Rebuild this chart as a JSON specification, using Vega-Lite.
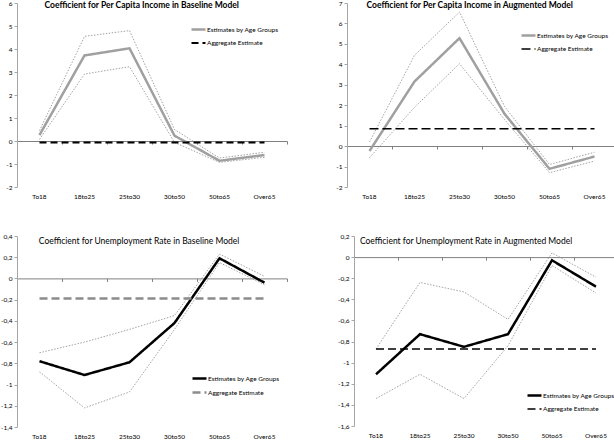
{
  "$schema": "https://vega.github.io/schema/vega-lite/v6.json",
  "padding": {"left": 0, "top": 0, "right": 0, "bottom": 0},
  "config": {
    "view": {"stroke": null},
    "font": "Lato",
    "locale": {"number": {"decimal": ",", "thousands": ".", "grouping": [3], "currency": ["", ""], "minus": "-"}},
    "axis": {"grid": false, "title": null, "labelFont": "Lato", "labelFontSize": 6.5, "labelColor": "#000000"},
    "axisY": {"minExtent": 13, "maxExtent": 13},
    "legend": {"labelFont": "Lato", "labelFontSize": 6.5, "labelColor": "#000000"},
    "title": {"font": "Lato", "fontSize": 8.5, "color": "#000000", "anchor": "middle", "frame": "bounds"}
  },
  "datasets": {
    "p1": [
      {"age": "To18", "series": "Estimates by Age Groups", "value": 0.26},
      {"age": "18to25", "series": "Estimates by Age Groups", "value": 3.72},
      {"age": "25to30", "series": "Estimates by Age Groups", "value": 4.03},
      {"age": "30to50", "series": "Estimates by Age Groups", "value": 0.23},
      {"age": "50to65", "series": "Estimates by Age Groups", "value": -0.86},
      {"age": "Over65", "series": "Estimates by Age Groups", "value": -0.61},
      {"age": "To18", "series": "Upper", "value": 0.45},
      {"age": "18to25", "series": "Upper", "value": 4.55},
      {"age": "25to30", "series": "Upper", "value": 4.8},
      {"age": "30to50", "series": "Upper", "value": 0.5},
      {"age": "50to65", "series": "Upper", "value": -0.74},
      {"age": "Over65", "series": "Upper", "value": -0.49},
      {"age": "To18", "series": "Lower", "value": 0.07},
      {"age": "18to25", "series": "Lower", "value": 2.91},
      {"age": "25to30", "series": "Lower", "value": 3.23},
      {"age": "30to50", "series": "Lower", "value": -0.06},
      {"age": "50to65", "series": "Lower", "value": -0.93},
      {"age": "Over65", "series": "Lower", "value": -0.71},
      {"age": "To18", "series": "Aggregate Estimate", "value": -0.06},
      {"age": "18to25", "series": "Aggregate Estimate", "value": -0.06},
      {"age": "25to30", "series": "Aggregate Estimate", "value": -0.06},
      {"age": "30to50", "series": "Aggregate Estimate", "value": -0.06},
      {"age": "50to65", "series": "Aggregate Estimate", "value": -0.06},
      {"age": "Over65", "series": "Aggregate Estimate", "value": -0.06}
    ],
    "p2": [
      {"age": "To18", "series": "Estimates by Age Groups", "value": -0.24},
      {"age": "18to25", "series": "Estimates by Age Groups", "value": 3.16},
      {"age": "25to30", "series": "Estimates by Age Groups", "value": 5.28},
      {"age": "30to50", "series": "Estimates by Age Groups", "value": 1.58},
      {"age": "50to65", "series": "Estimates by Age Groups", "value": -1.11},
      {"age": "Over65", "series": "Estimates by Age Groups", "value": -0.51},
      {"age": "To18", "series": "Upper", "value": 0.2},
      {"age": "18to25", "series": "Upper", "value": 4.44},
      {"age": "25to30", "series": "Upper", "value": 6.56},
      {"age": "30to50", "series": "Upper", "value": 1.94},
      {"age": "50to65", "series": "Upper", "value": -0.9},
      {"age": "Over65", "series": "Upper", "value": -0.3},
      {"age": "To18", "series": "Lower", "value": -0.57},
      {"age": "18to25", "series": "Lower", "value": 1.9},
      {"age": "25to30", "series": "Lower", "value": 4.03},
      {"age": "30to50", "series": "Lower", "value": 1.3},
      {"age": "50to65", "series": "Lower", "value": -1.3},
      {"age": "Over65", "series": "Lower", "value": -0.73},
      {"age": "To18", "series": "Aggregate Estimate", "value": 0.85},
      {"age": "18to25", "series": "Aggregate Estimate", "value": 0.85},
      {"age": "25to30", "series": "Aggregate Estimate", "value": 0.85},
      {"age": "30to50", "series": "Aggregate Estimate", "value": 0.85},
      {"age": "50to65", "series": "Aggregate Estimate", "value": 0.85},
      {"age": "Over65", "series": "Aggregate Estimate", "value": 0.85}
    ],
    "p3": [
      {"age": "To18", "series": "Estimates by Age Groups", "value": -0.78},
      {"age": "18to25", "series": "Estimates by Age Groups", "value": -0.91},
      {"age": "25to30", "series": "Estimates by Age Groups", "value": -0.79},
      {"age": "30to50", "series": "Estimates by Age Groups", "value": -0.42},
      {"age": "50to65", "series": "Estimates by Age Groups", "value": 0.19},
      {"age": "Over65", "series": "Estimates by Age Groups", "value": -0.04},
      {"age": "To18", "series": "Upper", "value": -0.7},
      {"age": "18to25", "series": "Upper", "value": -0.6},
      {"age": "25to30", "series": "Upper", "value": -0.48},
      {"age": "30to50", "series": "Upper", "value": -0.35},
      {"age": "50to65", "series": "Upper", "value": 0.23},
      {"age": "Over65", "series": "Upper", "value": 0.02},
      {"age": "To18", "series": "Lower", "value": -0.88},
      {"age": "18to25", "series": "Lower", "value": -1.22},
      {"age": "25to30", "series": "Lower", "value": -1.07},
      {"age": "30to50", "series": "Lower", "value": -0.48},
      {"age": "50to65", "series": "Lower", "value": 0.15},
      {"age": "Over65", "series": "Lower", "value": -0.06},
      {"age": "To18", "series": "Aggregate Estimate", "value": -0.19},
      {"age": "18to25", "series": "Aggregate Estimate", "value": -0.19},
      {"age": "25to30", "series": "Aggregate Estimate", "value": -0.19},
      {"age": "30to50", "series": "Aggregate Estimate", "value": -0.19},
      {"age": "50to65", "series": "Aggregate Estimate", "value": -0.19},
      {"age": "Over65", "series": "Aggregate Estimate", "value": -0.19}
    ],
    "p4": [
      {"age": "To18", "series": "Estimates by Age Groups", "value": -1.11},
      {"age": "18to25", "series": "Estimates by Age Groups", "value": -0.73},
      {"age": "25to30", "series": "Estimates by Age Groups", "value": -0.85},
      {"age": "30to50", "series": "Estimates by Age Groups", "value": -0.73},
      {"age": "50to65", "series": "Estimates by Age Groups", "value": -0.03},
      {"age": "Over65", "series": "Estimates by Age Groups", "value": -0.28},
      {"age": "To18", "series": "Upper", "value": -0.87},
      {"age": "18to25", "series": "Upper", "value": -0.24},
      {"age": "25to30", "series": "Upper", "value": -0.33},
      {"age": "30to50", "series": "Upper", "value": -0.59},
      {"age": "50to65", "series": "Upper", "value": 0.04},
      {"age": "Over65", "series": "Upper", "value": -0.19},
      {"age": "To18", "series": "Lower", "value": -1.34},
      {"age": "18to25", "series": "Lower", "value": -1.11},
      {"age": "25to30", "series": "Lower", "value": -1.34},
      {"age": "30to50", "series": "Lower", "value": -0.84},
      {"age": "50to65", "series": "Lower", "value": -0.08},
      {"age": "Over65", "series": "Lower", "value": -0.34},
      {"age": "To18", "series": "Aggregate Estimate", "value": -0.87},
      {"age": "18to25", "series": "Aggregate Estimate", "value": -0.87},
      {"age": "25to30", "series": "Aggregate Estimate", "value": -0.87},
      {"age": "30to50", "series": "Aggregate Estimate", "value": -0.87},
      {"age": "50to65", "series": "Aggregate Estimate", "value": -0.87},
      {"age": "Over65", "series": "Aggregate Estimate", "value": -0.87}
    ]
  },
  "spacing": 33,
  "resolve": {"scale": {"x": "independent", "y": "independent", "color": "independent", "strokeDash": "independent", "strokeWidth": "independent"}, "legend": {"color": "independent", "strokeDash": "independent", "strokeWidth": "independent"}},
  "vconcat": [
    {
      "bounds": "flush",
      "spacing": 60,
      "resolve": {"scale": {"x": "independent", "y": "independent", "color": "independent", "strokeDash": "independent", "strokeWidth": "independent"}, "legend": {"color": "independent", "strokeDash": "independent", "strokeWidth": "independent"}},
      "hconcat": [
        {
          "width": 270, "height": 184,
          "data": {"name": "p1"},
          "title": {"text": "Coefficient for Per Capita Income in Baseline Model", "fontWeight": "bold", "offset": -9, "dx": -4},
          "encoding": {
            "y": {"field": "value", "type": "quantitative", "scale": {"domain": [-2, 6], "nice": false, "zero": false},
                  "axis": {"values": [-2, -1, 0, 1, 2, 3, 4, 5, 6], "format": "d", "labelExpr": "replace(format(datum.value, 'd'), '\u2212', '-')", "domainColor": "#a6a6a6", "tickColor": "#a6a6a6", "tickSize": 3, "labelPadding": 2}}
          },
          "resolve": {"axis": {"x": "independent"}},
          "layer": [
            {
              "transform": [{"filter": "datum.series === 'Upper' || datum.series === 'Lower'"}],
              "mark": {"type": "line", "color": "#8c8c8c", "strokeWidth": 0.8, "strokeDash": [1.5, 1.5]},
              "encoding": {
                "x": {"field": "age", "type": "nominal", "sort": ["To18", "18to25", "25to30", "30to50", "50to65", "Over65"], "bandPosition": 0.5,
                      "scale": {"type": "band", "paddingInner": 0, "paddingOuter": 0},
                      "axis": {"orient": "bottom", "domain": false, "ticks": false, "labelAngle": 0, "labelPadding": 6, "minExtent": 13, "maxExtent": 13}},
                "detail": {"field": "series"}
              }
            },
            {
              "transform": [{"filter": "datum.series === 'Estimates by Age Groups' || datum.series === 'Aggregate Estimate'"}],
              "mark": {"type": "line"},
              "encoding": {
                "x": {"field": "age", "type": "nominal", "sort": ["To18", "18to25", "25to30", "30to50", "50to65", "Over65"], "bandPosition": 0.5,
                      "scale": {"type": "band", "paddingInner": 0, "paddingOuter": 0},
                      "axis": {"orient": "bottom", "labels": false, "domain": true, "ticks": true, "tickBand": "extent", "tickSize": 3, "domainColor": "#808080", "tickColor": "#808080", "offset": -46, "minExtent": 0, "maxExtent": 0}},
                "color": {"field": "series", "type": "nominal", "scale": {"domain": ["Estimates by Age Groups", "Aggregate Estimate"], "range": ["#a0a0a0", "#000000"]},
                          "legend": {"orient": "none", "legendX": 173, "legendY": 18, "title": null, "symbolType": "stroke", "symbolSize": 196, "labelOffset": 0, "rowPadding": -4, "labelLimit": 0}},
                "strokeDash": {"field": "series", "type": "nominal", "scale": {"domain": ["Estimates by Age Groups", "Aggregate Estimate"], "range": [[1, 0], [7, 4]]},
                          "legend": {"orient": "none", "legendX": 173, "legendY": 18, "title": null, "symbolType": "stroke", "symbolSize": 196, "labelOffset": 0, "rowPadding": -4, "labelLimit": 0}},
                "strokeWidth": {"field": "series", "type": "nominal", "scale": {"domain": ["Estimates by Age Groups", "Aggregate Estimate"], "range": [2.5, 2]},
                          "legend": {"orient": "none", "legendX": 173, "legendY": 18, "title": null, "symbolType": "stroke", "symbolSize": 196, "labelOffset": 0, "rowPadding": -4, "labelLimit": 0}}
              }
            }
          ]
        },
        {
          "width": 270, "height": 184,
          "data": {"name": "p2"},
          "title": {"text": "Coefficient for Per Capita Income in Augmented Model", "fontWeight": "bold", "offset": -9, "dx": -6},
          "encoding": {
            "y": {"field": "value", "type": "quantitative", "scale": {"domain": [-2, 7], "nice": false, "zero": false},
                  "axis": {"values": [-2, -1, 0, 1, 2, 3, 4, 5, 6, 7], "format": "d", "labelExpr": "replace(format(datum.value, 'd'), '\u2212', '-')", "domainColor": "#a6a6a6", "tickColor": "#a6a6a6", "tickSize": 3, "labelPadding": 2}}
          },
          "resolve": {"axis": {"x": "independent"}},
          "layer": [
            {
              "transform": [{"filter": "datum.series === 'Upper' || datum.series === 'Lower'"}],
              "mark": {"type": "line", "color": "#8c8c8c", "strokeWidth": 0.8, "strokeDash": [1.5, 1.5]},
              "encoding": {
                "x": {"field": "age", "type": "nominal", "sort": ["To18", "18to25", "25to30", "30to50", "50to65", "Over65"], "bandPosition": 0.5,
                      "scale": {"type": "band", "paddingInner": 0, "paddingOuter": 0},
                      "axis": {"orient": "bottom", "domain": false, "ticks": false, "labelAngle": 0, "labelPadding": 6, "minExtent": 13, "maxExtent": 13}},
                "detail": {"field": "series"}
              }
            },
            {
              "transform": [{"filter": "datum.series === 'Estimates by Age Groups' || datum.series === 'Aggregate Estimate'"}],
              "mark": {"type": "line"},
              "encoding": {
                "x": {"field": "age", "type": "nominal", "sort": ["To18", "18to25", "25to30", "30to50", "50to65", "Over65"], "bandPosition": 0.5,
                      "scale": {"type": "band", "paddingInner": 0, "paddingOuter": 0},
                      "axis": {"orient": "bottom", "labels": false, "domain": true, "ticks": true, "tickBand": "extent", "tickSize": 3, "domainColor": "#808080", "tickColor": "#808080", "offset": -41, "minExtent": 0, "maxExtent": 0}},
                "color": {"field": "series", "type": "nominal", "scale": {"domain": ["Estimates by Age Groups", "Aggregate Estimate"], "range": ["#a0a0a0", "#000000"]},
                          "legend": {"orient": "none", "legendX": 173, "legendY": 24, "title": null, "symbolType": "stroke", "symbolSize": 196, "labelOffset": 0, "rowPadding": -4, "labelLimit": 0}},
                "strokeDash": {"field": "series", "type": "nominal", "scale": {"domain": ["Estimates by Age Groups", "Aggregate Estimate"], "range": [[1, 0], [9, 4]]},
                          "legend": {"orient": "none", "legendX": 173, "legendY": 24, "title": null, "symbolType": "stroke", "symbolSize": 196, "labelOffset": 0, "rowPadding": -4, "labelLimit": 0}},
                "strokeWidth": {"field": "series", "type": "nominal", "scale": {"domain": ["Estimates by Age Groups", "Aggregate Estimate"], "range": [2.5, 1.5]},
                          "legend": {"orient": "none", "legendX": 173, "legendY": 24, "title": null, "symbolType": "stroke", "symbolSize": 196, "labelOffset": 0, "rowPadding": -4, "labelLimit": 0}}
              }
            }
          ]
        }
      ]
    },
    {
      "bounds": "flush",
      "spacing": 67,
      "resolve": {"scale": {"x": "independent", "y": "independent", "color": "independent", "strokeDash": "independent", "strokeWidth": "independent"}, "legend": {"color": "independent", "strokeDash": "independent", "strokeWidth": "independent"}},
      "hconcat": [
        {
          "width": 270, "height": 191,
          "data": {"name": "p3"},
          "title": {"text": "Coefficient for Unemployment Rate in Baseline Model", "fontWeight": "normal", "offset": -12, "dx": -5},
          "encoding": {
            "y": {"field": "value", "type": "quantitative", "scale": {"domain": [-1.4, 0.4], "nice": false, "zero": false},
                  "axis": {"values": [-1.4, -1.2, -1, -0.8, -0.6, -0.4, -0.2, 0, 0.2, 0.4], "format": ".1~f", "labelExpr": "replace(replace(format(datum.value, '.1~f'), '.', ','), '\u2212', '-')", "domainColor": "#a6a6a6", "tickColor": "#a6a6a6", "tickSize": 3, "labelPadding": 2}}
          },
          "resolve": {"axis": {"x": "independent"}},
          "layer": [
            {
              "transform": [{"filter": "datum.series === 'Upper' || datum.series === 'Lower'"}],
              "mark": {"type": "line", "color": "#8c8c8c", "strokeWidth": 0.8, "strokeDash": [1.5, 1.5]},
              "encoding": {
                "x": {"field": "age", "type": "nominal", "sort": ["To18", "18to25", "25to30", "30to50", "50to65", "Over65"], "bandPosition": 0.5,
                      "scale": {"type": "band", "paddingInner": 0, "paddingOuter": 0},
                      "axis": {"orient": "bottom", "domain": false, "ticks": false, "labelAngle": 0, "labelPadding": 6, "minExtent": 13, "maxExtent": 13}},
                "detail": {"field": "series"}
              }
            },
            {
              "transform": [{"filter": "datum.series === 'Estimates by Age Groups' || datum.series === 'Aggregate Estimate'"}],
              "mark": {"type": "line"},
              "encoding": {
                "x": {"field": "age", "type": "nominal", "sort": ["To18", "18to25", "25to30", "30to50", "50to65", "Over65"], "bandPosition": 0.5,
                      "scale": {"type": "band", "paddingInner": 0, "paddingOuter": 0},
                      "axis": {"orient": "bottom", "labels": false, "domain": true, "ticks": true, "tickBand": "extent", "tickSize": 3, "domainColor": "#808080", "tickColor": "#808080", "offset": -148.6, "minExtent": 0, "maxExtent": 0}},
                "color": {"field": "series", "type": "nominal", "scale": {"domain": ["Estimates by Age Groups", "Aggregate Estimate"], "range": ["#000000", "#8c8c8c"]},
                          "legend": {"orient": "none", "legendX": 174, "legendY": 134, "title": null, "symbolType": "stroke", "symbolSize": 196, "labelOffset": 0, "rowPadding": -4, "labelLimit": 0}},
                "strokeDash": {"field": "series", "type": "nominal", "scale": {"domain": ["Estimates by Age Groups", "Aggregate Estimate"], "range": [[1, 0], [8, 4]]},
                          "legend": {"orient": "none", "legendX": 174, "legendY": 134, "title": null, "symbolType": "stroke", "symbolSize": 196, "labelOffset": 0, "rowPadding": -4, "labelLimit": 0}},
                "strokeWidth": {"field": "series", "type": "nominal", "scale": {"domain": ["Estimates by Age Groups", "Aggregate Estimate"], "range": [2.5, 2.5]},
                          "legend": {"orient": "none", "legendX": 174, "legendY": 134, "title": null, "symbolType": "stroke", "symbolSize": 196, "labelOffset": 0, "rowPadding": -4, "labelLimit": 0}}
              }
            }
          ]
        },
        {
          "width": 264, "height": 190,
          "data": {"name": "p4"},
          "title": {"text": "Coefficient for Unemployment Rate in Augmented Model", "fontWeight": "normal", "offset": -12, "dx": -12},
          "encoding": {
            "y": {"field": "value", "type": "quantitative", "scale": {"domain": [-1.6, 0.2], "nice": false, "zero": false},
                  "axis": {"values": [-1.6, -1.4, -1.2, -1, -0.8, -0.6, -0.4, -0.2, 0, 0.2], "format": ".1~f", "labelExpr": "replace(replace(format(datum.value, '.1~f'), '.', ','), '\u2212', '-')", "domainColor": "#a6a6a6", "tickColor": "#a6a6a6", "tickSize": 3, "labelPadding": 2}}
          },
          "resolve": {"axis": {"x": "independent"}},
          "layer": [
            {
              "transform": [{"filter": "datum.series === 'Upper' || datum.series === 'Lower'"}],
              "mark": {"type": "line", "color": "#8c8c8c", "strokeWidth": 0.8, "strokeDash": [1.5, 1.5]},
              "encoding": {
                "x": {"field": "age", "type": "nominal", "sort": ["To18", "18to25", "25to30", "30to50", "50to65", "Over65"], "bandPosition": 0.5,
                      "scale": {"type": "band", "paddingInner": 0, "paddingOuter": 0},
                      "axis": {"orient": "bottom", "domain": false, "ticks": false, "labelAngle": 0, "labelPadding": 6, "minExtent": 13, "maxExtent": 13}},
                "detail": {"field": "series"}
              }
            },
            {
              "transform": [{"filter": "datum.series === 'Estimates by Age Groups' || datum.series === 'Aggregate Estimate'"}],
              "mark": {"type": "line"},
              "encoding": {
                "x": {"field": "age", "type": "nominal", "sort": ["To18", "18to25", "25to30", "30to50", "50to65", "Over65"], "bandPosition": 0.5,
                      "scale": {"type": "band", "paddingInner": 0, "paddingOuter": 0},
                      "axis": {"orient": "bottom", "labels": false, "domain": true, "ticks": true, "tickBand": "extent", "tickSize": 3, "domainColor": "#808080", "tickColor": "#808080", "offset": -168.9, "minExtent": 0, "maxExtent": 0}},
                "color": {"field": "series", "type": "nominal", "scale": {"domain": ["Estimates by Age Groups", "Aggregate Estimate"], "range": ["#000000", "#000000"]},
                          "legend": {"orient": "none", "legendX": 172, "legendY": 151, "title": null, "symbolType": "stroke", "symbolSize": 196, "labelOffset": 0, "rowPadding": -4, "labelLimit": 0}},
                "strokeDash": {"field": "series", "type": "nominal", "scale": {"domain": ["Estimates by Age Groups", "Aggregate Estimate"], "range": [[1, 0], [8, 4]]},
                          "legend": {"orient": "none", "legendX": 172, "legendY": 151, "title": null, "symbolType": "stroke", "symbolSize": 196, "labelOffset": 0, "rowPadding": -4, "labelLimit": 0}},
                "strokeWidth": {"field": "series", "type": "nominal", "scale": {"domain": ["Estimates by Age Groups", "Aggregate Estimate"], "range": [2.5, 1.5]},
                          "legend": {"orient": "none", "legendX": 172, "legendY": 151, "title": null, "symbolType": "stroke", "symbolSize": 196, "labelOffset": 0, "rowPadding": -4, "labelLimit": 0}}
              }
            }
          ]
        }
      ]
    }
  ]
}
